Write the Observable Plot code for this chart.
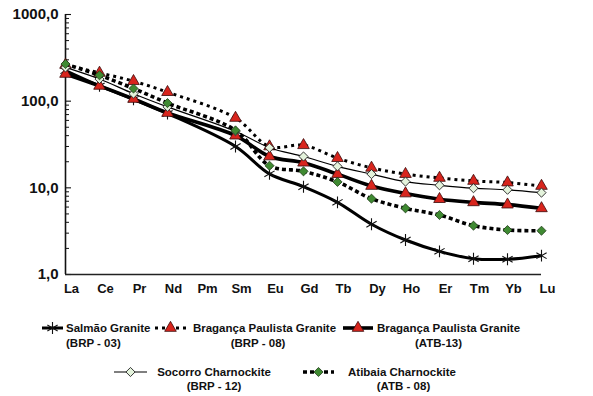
<!DOCTYPE html>
<html>
<head>
<meta charset="utf-8">
<script src="https://cdn.jsdelivr.net/npm/d3@7"></script>
<script src="https://cdn.jsdelivr.net/npm/@observablehq/plot@0.6"></script>
<style>
  html, body { margin: 0; padding: 0; background: #fff; }
  #wrap { position: relative; width: 593px; height: 396px; font-family: "Liberation Sans", Arial, sans-serif; }
  .lg { position: absolute; font-size: 11.5px; font-weight: bold; color: #111; white-space: nowrap; line-height: 14px; }
  .sym { position: absolute; }
</style>
</head>
<body>
<div id="wrap"></div>
<script>
// ---- data ----
const elements = ["La","Ce","Pr","Nd","Pm","Sm","Eu","Gd","Tb","Dy","Ho","Er","Tm","Yb","Lu"];
const measured = ["La","Ce","Pr","Nd","Sm","Eu","Gd","Tb","Dy","Ho","Er","Tm","Yb","Lu"];
const salmao     = [225,150,105,72,30,14.5,10.3,6.8,3.8,2.5,1.85,1.52,1.5,1.65];
const braganca08 = [262,212,170,127,64,30,31,22,17,14.4,13,12,11.5,10.5];
const braganca13 = [206,150,106,73,40,23,19.5,14.4,10.5,8.6,7.4,6.8,6.4,5.8];
const socorro    = [245,180,122,86,45,29,23,17.7,14.4,11.8,10.7,9.9,9.5,8.8];
const atibaia    = [268,199,140,95,46,18,15.5,11.7,7.5,5.8,4.86,3.66,3.26,3.2];
const seriesNames = ["Salmão Granite","Bragança Paulista Granite","Bragança Paulista Granite","Socorro Charnockite","Atibaia Charnockite"];
const sampleCodes = ["(BRP - 03)","(BRP - 08)","(ATB-13)","(BRP - 12)","(ATB - 08)"];
const majorTicks = [1,10,100,1000];
const minorTicks = [2,3,4,5,6,7,8,9,20,30,40,50,60,70,80,90,200,300,400,500,600,700,800,900];

// ---- styles ----
const RED = "#d8251d", GREEN = "#3f8a32", LIGHT = "#e4f3dc";
const styles = [
  {values: salmao,     lw: 3,   dash: null,   symbol: "asterisk", r: 5.6, fill: "none", stroke: "#111", sw: 1.1},
  {values: braganca08, lw: 3,   dash: "3 4",  symbol: "triangle", r: 4.3, fill: RED,   stroke: "#3a0a0a", sw: 0.8},
  {values: braganca13, lw: 3.6, dash: null,   symbol: "triangle", r: 4.3, fill: RED,   stroke: "#3a0a0a", sw: 0.8},
  {values: socorro,    lw: 1.2, dash: null,   symbol: "diamond2", r: 4.1, fill: LIGHT, stroke: "#222", sw: 0.9},
  {values: atibaia,    lw: 3.6, dash: "4 3",  symbol: "diamond2", r: 4.1, fill: GREEN, stroke: "#1e3a16", sw: 0.8}
];

const marks = [];
styles.forEach((s, i) => {
  const rows = measured.map((el, j) => ({el, v: s.values[j], series: i}));
  marks.push(Plot.line(rows, {x: "el", y: "v", curve: "catmull-rom", stroke: "#000", strokeWidth: s.lw,
    strokeDasharray: s.dash, strokeLinecap: "butt"}));
  marks.push(Plot.dot(rows, {x: "el", y: "v", symbol: s.symbol, r: s.r, fill: s.fill, stroke: s.stroke, strokeWidth: s.sw}));
});

const chart = Plot.plot({
  width: 593,
  height: 300,
  marginLeft: 65,
  marginRight: 52,
  marginTop: 14,
  marginBottom: 26,
  style: {fontFamily: "'Liberation Sans', Arial, sans-serif", background: "#fff", color: "#111"},
  x: {type: "point", domain: elements, padding: 0, label: null},
  y: {type: "log", domain: [1, 1000], label: null},
  marks: [
    Plot.axisY({ticks: majorTicks, tickSize: 0, tickPadding: 7, fontSize: 15, fontWeight: "bold",
      tickFormat: d => d.toFixed(1).replace(".", ",")}),
    Plot.axisY({ticks: majorTicks, tickSize: 6, dx: 6, tickFormat: () => "", strokeWidth: 1.1}),
    Plot.axisY({ticks: minorTicks, tickSize: 4, dx: 4, tickFormat: () => "", strokeWidth: 1}),
    Plot.axisX({tickSize: 0, tickPadding: 9, dx: 6, fontSize: 13, fontWeight: "bold"}),
    Plot.ruleX(["La"], {stroke: "#111", strokeWidth: 1.6}),
    Plot.ruleY([1], {stroke: "#222", strokeWidth: 1.3}),
    ...marks
  ]
});
const wrap = document.getElementById("wrap");
wrap.appendChild(chart);

// ---- legend ----
const legendLayout = [
  {sx: [42, 63],   y: 328, l1: {x: 66, align: "left"}, l2: {x: 66, align: "left"}, y2: 343},
  {sx: [155, 186], y: 328, l1: {x: 264.5, align: "center"}, l2: {x: 258, align: "center"}, y2: 343},
  {sx: [343, 373], y: 328, l1: {x: 448.5, align: "center"}, l2: {x: 438.5, align: "center"}, y2: 343},
  {sx: [114, 147], y: 372, l1: {x: 214, align: "center"}, l2: {x: 214, align: "center"}, y2: 386},
  {sx: [303, 334], y: 372, l1: {x: 402, align: "center"}, l2: {x: 403.5, align: "center"}, y2: 386}
];
const symMap = {asterisk: d3.symbolAsterisk, triangle: d3.symbolTriangle, diamond2: d3.symbolDiamond2};
function addText(txt, pos, yc) {
  const d = document.createElement("div");
  d.className = "lg";
  d.textContent = txt;
  d.style.top = (yc - 7) + "px";
  if (pos.align === "left") d.style.left = pos.x + "px";
  else { d.style.left = pos.x + "px"; d.style.transform = "translateX(-50%)"; }
  wrap.appendChild(d);
}
legendLayout.forEach((L, i) => {
  const s = styles[i];
  const w = L.sx[1] - L.sx[0], h = 16;
  const svg = d3.create("svg").attr("class", "sym").attr("width", w).attr("height", h)
    .style("left", L.sx[0] + "px").style("top", (L.y - h / 2) + "px");
  svg.append("line").attr("x1", 0).attr("x2", w).attr("y1", h / 2).attr("y2", h / 2)
    .attr("stroke", "#000").attr("stroke-width", s.lw).attr("stroke-dasharray", s.dash);
  const size = Math.PI * s.r * s.r;
  svg.append("path").attr("d", d3.symbol(symMap[s.symbol], size)())
    .attr("transform", `translate(${w / 2},${h / 2})`)
    .attr("fill", s.fill).attr("stroke", s.stroke).attr("stroke-width", s.sw);
  wrap.appendChild(svg.node());
  addText(seriesNames[i], L.l1, L.y);
  addText(sampleCodes[i], L.l2, L.y2);
});
</script>
</body>
</html>
